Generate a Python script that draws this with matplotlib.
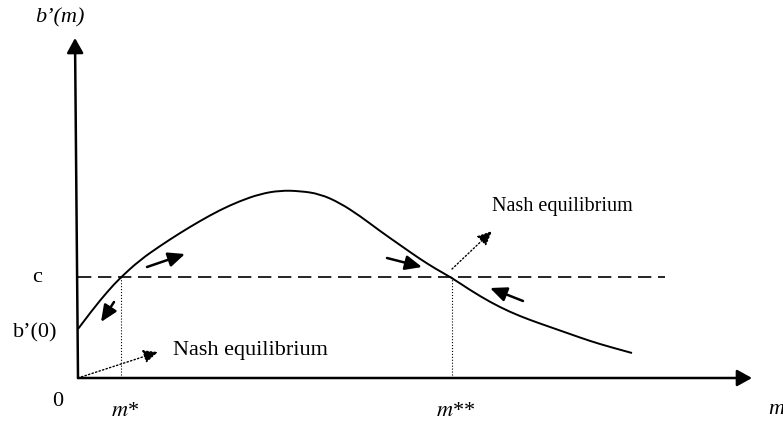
import matplotlib.pyplot as plt
from matplotlib.path import Path
from matplotlib.patches import PathPatch

plt.rcParams['font.family'] = ['Liberation Serif', 'DejaVu Serif']
plt.rcParams['mathtext.fontset'] = 'stix'

# curva b'(m) (unidades arbitrarias, origen en 0)
m_vals = [0, 15, 30, 42, 62, 82, 102, 122, 142, 162, 182, 202, 222, 242,
          262, 282, 302, 322, 342, 358, 374, 392, 412, 432, 452, 472, 492,
          512, 532, 554]
b_vals = [49, 69, 87, 100, 118, 132, 145, 157, 168, 177, 184, 187.5, 187, 184,
          175, 162, 147, 133, 119, 109, 100, 88, 76, 66, 58, 51, 44,
          37, 31, 25]

c_level = 101
m_star = 43
m_star2 = 374
m_axis_end = 674
b_axis_end = 340
dash_end = 587

# flechas de dirección (inicio, fin)
flechas = [((69, 111), (107, 124)),
           ((36, 76), (23, 56)),
           ((309, 120), (344, 111)),
           ((445, 77), (412, 90))]

fig = plt.figure(figsize=(7.83, 4.24), dpi=100)
ax = fig.add_axes([0, 0, 1, 1])
ax.set_xlim(-78, 705)
ax.set_ylim(-46, 378)
ax.axis('off')

# ejes con flecha
eje = dict(arrowstyle='-|>,head_length=0.45,head_width=0.25', lw=1.8,
           color='black', mutation_scale=20, shrinkA=0, shrinkB=0)
ax.annotate('', xy=(m_axis_end, 0), xytext=(0, 0), arrowprops=eje)
ax.annotate('', xy=(-3, b_axis_end), xytext=(0, 0), arrowprops=eje)

# curva suavizada (bezier cuadrática sobre los puntos leídos)
pts = list(zip(m_vals, b_vals))
verts = [pts[0]]
codes = [Path.MOVETO]
for i in range(1, len(pts) - 2):
    mid = ((pts[i][0] + pts[i + 1][0]) / 2, (pts[i][1] + pts[i + 1][1]) / 2)
    verts += [pts[i], mid]
    codes += [Path.CURVE3, Path.CURVE3]
verts += [pts[-2], pts[-1]]
codes += [Path.CURVE3, Path.CURVE3]
ax.add_patch(PathPatch(Path(verts, codes), fill=False, lw=1.4, color='black'))

# costo c
ax.plot([0, dash_end], [c_level, c_level], color='black', lw=1.2,
        dashes=(8, 4))

# lineas punteadas verticales
ax.plot([m_star, m_star], [0, c_level], color='black', lw=0.8, ls=':')
ax.plot([m_star2, m_star2], [0, c_level], color='black', lw=0.8, ls=':')

# flechas de dirección
for ini, fin in flechas:
    ax.annotate('', xy=fin, xytext=ini,
                arrowprops=dict(arrowstyle='-|>,head_length=0.5,head_width=0.22',
                                lw=1.8, color='black', mutation_scale=20,
                                shrinkA=0, shrinkB=0))

# flechas punteadas a los equilibrios
punt = dict(arrowstyle='-|>,head_length=0.55,head_width=0.25', lw=1.0,
            ls=':', color='black', mutation_scale=16, shrinkA=0, shrinkB=0)
ax.annotate('', xy=(80, 26), xytext=(0, 0), arrowprops=punt)
ax.annotate('', xy=(414, 147), xytext=(374, 109), arrowprops=punt)

ax.text(95, 28, 'Nash equilibrium', fontsize=16, va='center', ha='left')
ax.text(414, 172, 'Nash equilibrium', fontsize=14.5, va='center', ha='left')

# etiquetas
ax.text(-18, 360, 'b’(m)', fontsize=16, style='italic', ha='center', va='center')
ax.text(-41, c_level, 'c', fontsize=16, ha='center', va='center')
ax.text(-43, 45, 'b’(0)', fontsize=16, ha='center', va='center')
ax.text(-20, -24, '0', fontsize=16, ha='center', va='center')
ax.text(m_star + 4, -33, '$m$*', fontsize=16, ha='center', va='center')
ax.text(m_star2 + 4, -33, '$m$**', fontsize=16, ha='center', va='center')
ax.text(690, -32, 'm', fontsize=16, style='italic', ha='left', va='center')

plt.savefig('out.png', dpi=100)
plt.close()
